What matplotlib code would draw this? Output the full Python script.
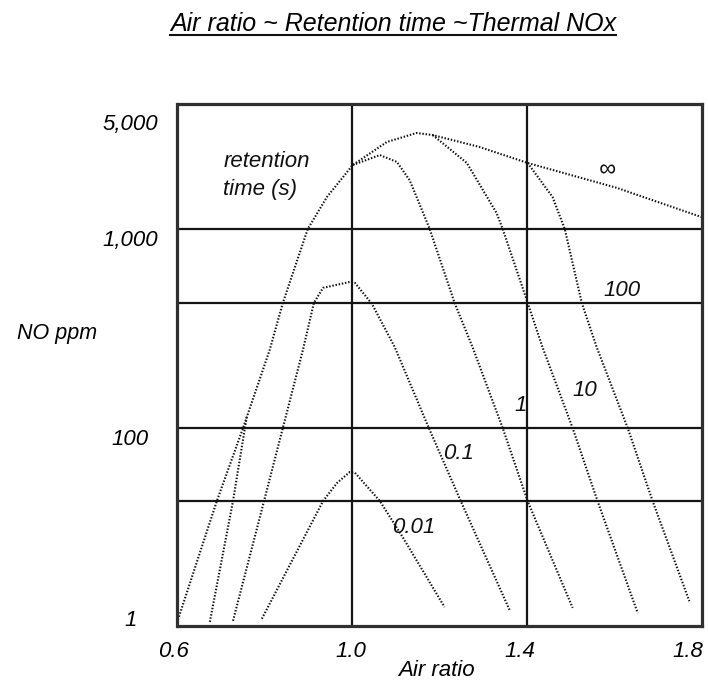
import numpy as np
import matplotlib
matplotlib.use("Agg")
import matplotlib.pyplot as plt
from matplotlib.transforms import ScaledTranslation
from matplotlib.ticker import FixedLocator, FixedFormatter, NullLocator
from matplotlib.lines import Line2D

plt.rcParams['font.family'] = ['Liberation Sans', 'DejaVu Sans']
plt.rcParams['font.style'] = 'italic'

# ---------------- data (NO ppm vs air ratio) ----------------
TITLE = "Air ratio ~ Retention time ~Thermal NOx"
X_LABEL = "Air ratio"
Y_LABEL = "NO ppm"

X_TICKS = [0.6, 1.0, 1.4, 1.8]
X_TICK_LABELS = ["0.6", "1.0", "1.4", "1.8"]
Y_TICKS = [1, 100, 1000, 5000]
Y_TICK_LABELS = ["1", "100", "1,000", "5,000"]
GRID_PPM = [15.6, 100, 425, 1000]
GRID_AIR = [1.0, 1.4]

inf_x = [0.601, 0.690, 0.750, 0.811, 0.841, 0.898, 0.942, 1.001, 1.079, 1.147,
         1.184, 1.291, 1.401, 1.605, 1.799]
inf_y = [0.76, 15.6, 100, 247, 425, 1000, 1560, 2430, 3345, 3790,
         3680, 3120, 2500, 1770, 1180]

t100_x = [0.601, 0.690, 0.750, 0.811, 0.841, 0.898, 0.942, 1.001, 1.079, 1.147,
          1.184, 1.291, 1.401, 1.458, 1.486, 1.525, 1.559, 1.630, 1.687, 1.771]
t100_y = [0.76, 15.6, 100, 247, 425, 1000, 1560, 2430, 3345, 3790,
          3680, 3120, 2500, 1560, 1000, 425, 255, 100, 15.6, 1.22]

t10_x = [0.601, 0.690, 0.750, 0.811, 0.841, 0.898, 0.942, 1.001, 1.079, 1.147,
         1.184, 1.262, 1.330, 1.344, 1.399, 1.435, 1.504, 1.561, 1.653]
t10_y = [0.76, 15.6, 100, 247, 425, 1000, 1560, 2430, 3345, 3790,
         3680, 2500, 1248, 1000, 440, 255, 100, 15.6, 0.90]

t1_x = [0.674, 0.727, 0.759, 0.811, 0.841, 0.898, 0.942, 1.001, 1.063, 1.102,
        1.131, 1.147, 1.177, 1.234, 1.275, 1.344, 1.401, 1.504]
t1_y = [0.72, 15.6, 116, 247, 425, 1000, 1560, 2430, 2790, 2535,
        1970, 1560, 1000, 425, 255, 100, 15.6, 1.03]

t01_x = [0.727, 0.798, 0.841, 0.887, 0.912, 0.933, 0.994, 1.006, 1.045, 1.097,
         1.177, 1.248, 1.360]
t01_y = [0.74, 15.6, 100, 247, 425, 506, 542, 536, 420, 255,
         95, 15.6, 0.97]

t001_x = [0.793, 0.933, 0.965, 0.994, 1.006, 1.063, 1.115, 1.211]
t001_y = [0.78, 15.6, 24.7, 32.6, 32.0, 15.6, 6.25, 1.05]

# each curve with the index ranges where it is not drawn on top of an
# already drawn (shared) part of another curve
CURVES = [
    (inf_x, inf_y, [(0, None)]),
    (t100_x, t100_y, [(12, None)]),
    (t10_x, t10_y, [(10, None)]),
    (t1_x, t1_y, [(0, 3), (7, None)]),
    (t01_x, t01_y, [(0, None)]),
    (t001_x, t001_y, [(0, None)]),
]

# curve labels: text, axes-fraction position
CURVE_LABELS = [("\u221e", 0.819, 0.873), ("100", 0.8475, 0.643),
                ("10", 0.777, 0.451), ("1", 0.655, 0.422),
                ("0.1", 0.535, 0.330), ("0.01", 0.451, 0.188)]

# ---------------- non-uniform (hand drawn) y scale ----------------
SCALE_LOG = np.array([-1.0, 0.0, 2.0, 3.0, np.log10(5000), 4.5])
SCALE_POS = np.array([-73.5, 17.0, 198.0, 397.0, 513.0, 646.0])


def fwd(v):
    v = np.clip(np.asarray(v, dtype=float), 1e-6, None)
    return np.interp(np.log10(v), SCALE_LOG, SCALE_POS)


def inv(p):
    return 10 ** np.interp(np.asarray(p, dtype=float), SCALE_POS, SCALE_LOG)


W, H = 708, 684
fig = plt.figure(figsize=(W / 100, H / 100), dpi=100)
fig.patch.set_facecolor('white')
L, R, T, B = 177.5, 702, 104, 626
ax = fig.add_axes([L / W, 1 - B / H, (R - L) / W, (B - T) / H])
ax.set_yscale('function', functions=(fwd, inv))
ax.set_xlim(0.6, 1.8)
ax.set_ylim(inv(0), inv(B - T))

for x, y, parts in CURVES:
    for a, b in parts:
        ax.plot(x[a:b], y[a:b], color='#111111', lw=1.5, linestyle=(0, (0.7, 0.85)))

for g in GRID_PPM:
    ax.axhline(g, color='#151515', lw=1.6, zorder=1)
for g in GRID_AIR:
    ax.axvline(g, color='#151515', lw=1.6, zorder=1)

for s in ax.spines.values():
    s.set_linewidth(2.3)
    s.set_color('#303030')

ax.yaxis.set_major_locator(FixedLocator(Y_TICKS))
ax.yaxis.set_major_formatter(FixedFormatter(Y_TICK_LABELS))
ax.yaxis.set_minor_locator(NullLocator())
ax.xaxis.set_major_locator(FixedLocator(X_TICKS))
ax.xaxis.set_major_formatter(FixedFormatter(X_TICK_LABELS))
ax.xaxis.set_minor_locator(NullLocator())
ax.tick_params(axis='both', length=0, labelsize=16)
ax.tick_params(axis='y', pad=34)
ax.tick_params(axis='x', pad=11)

for lab in ax.get_yticklabels():
    lab.set_ha('center')
    lab.set_style('italic')
    lab.set_transform(lab.get_transform() + ScaledTranslation(0, -9 / 100, fig.dpi_scale_trans))
x_shift = [-4.5, -1, -7, -14]
for lab, dx in zip(ax.get_xticklabels(), x_shift):
    lab.set_style('italic')
    lab.set_transform(lab.get_transform() + ScaledTranslation(dx / 100, 0, fig.dpi_scale_trans))

for txt, fx, fy in CURVE_LABELS:
    ax.text(fx, fy, txt, transform=ax.transAxes, ha='center', va='center',
            fontsize=16 if txt != "\u221e" else 17, style='italic', color='#111')

ax.text(0.087, 0.8906, "retention", transform=ax.transAxes, ha='left', va='center',
        fontsize=16, style='italic', color='#111')
ax.text(0.087, 0.8369, "time (s)", transform=ax.transAxes, ha='left', va='center',
        fontsize=16, style='italic', color='#111')

fig.text(436 / W, 1 - 671 / H, X_LABEL, ha='center', va='center', fontsize=16, style='italic')
fig.text(57 / W, 1 - 334 / H, Y_LABEL, ha='center', va='center', fontsize=15.5, style='italic')
title = fig.text(393 / W, 1 - 31 / H, TITLE, ha='center', va='baseline', fontsize=18, style='italic')

fig.canvas.draw()
bb = title.get_window_extent()
uy = (H - 34.5) / H
fig.add_artist(Line2D([bb.x0 / W, bb.x1 / W], [uy, uy], transform=fig.transFigure,
                      color='#111', lw=1.5))

fig.savefig("out.png", dpi=100, facecolor='white')
